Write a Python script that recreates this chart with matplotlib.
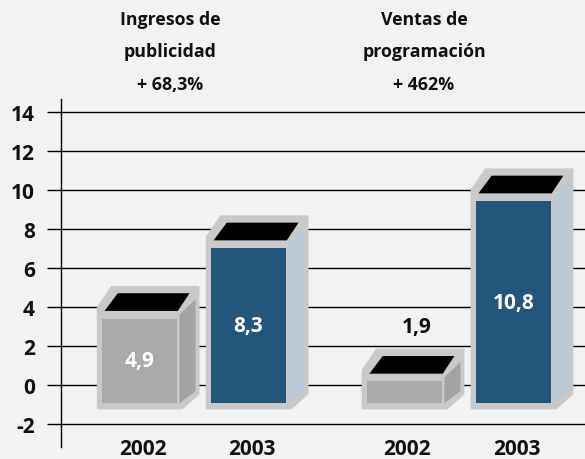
import numpy as np
import matplotlib.pyplot as plt
from matplotlib.patches import Polygon

plt.rcParams["font.family"] = ["Open Sans", "DejaVu Sans"]

titles = [["Ingresos de", "publicidad", "+ 68,3%"],
          ["Ventas de", "programación", "+ 462%"]]
years = ["2002", "2003", "2002", "2003"]
values = [4.9, 8.3, 1.9, 10.8]
# level of the front face top of each box, as drawn against the axis
front_top = [3.41, 7.03, 0.19, 9.44]
yticks = [-2, 0, 2, 4, 6, 8, 10, 12, 14]

pos = np.array([0, 1, 2.43, 3.43])
face = ["#aaaaaa", "#24557b", "#aaaaaa", "#24557b"]
side = ["#a3a3a3", "#bccad8", "#a3a3a3", "#bccad8"]
border = "#c9c9c9"
bg = "#f1f2f4"
ink = "#111111"

fig = plt.figure(figsize=(5.85, 4.6), dpi=100, facecolor=bg)
ax = fig.add_axes([0.1038, 0.0261, 0.8962, 0.7565], facecolor=bg)
ax.set_xlim(-0.723, 4.087)
ax.set_ylim(-3.18, 14.67)

# pixels -> data units
XS = 109.0
YS = 19.5
base = -0.94
W = 74.6


def box(c, top, fc, sc):
    x0 = c - W / 2 / XS
    h = (top - base) * YS

    def P(pts):
        return [(x0 + px / XS, base + py / YS) for px, py in pts]

    outer = [(-5.4, -6), (W + 5.7, -6), (W + 22.7, 9), (W + 22.7, h + 32.6),
             (9, h + 32.6), (-5.4, h + 11.3)]
    sidep = [(W + 2.7, 0), (W + 18.7, 12.3), (W + 18.7, h + 19.3), (W + 2.7, h + 4)]
    topp = [(2.3, h + 7.6), (W + 1, h + 7.6), (W + 12.7, h + 25.3), (15.6, h + 25.3)]
    front = [(0, 0), (W, 0), (W, h), (0, h)]
    ax.add_patch(Polygon(P(outer), closed=True, fc=border, ec="none", zorder=3))
    ax.add_patch(Polygon(P(sidep), closed=True, fc=sc, ec="none", zorder=4))
    ax.add_patch(Polygon(P(topp), closed=True, fc="black", ec="none", zorder=4))
    ax.add_patch(Polygon(P(front), closed=True, fc=fc, ec="none", zorder=4))


for i in range(len(values)):
    box(pos[i], front_top[i], face[i], side[i])
    lab = f"{values[i]:.1f}".replace(".", ",")
    if (front_top[i] - base) * YS > 40:
        ax.text(pos[i], (front_top[i] + base) / 2, lab, color="white",
                ha="center", va="center", fontsize=15, fontweight="bold",
                zorder=5)
    else:
        ax.text(pos[i] + 12 / XS, front_top[i] + 55 / YS, lab, color=ink,
                ha="center", va="center", fontsize=15, fontweight="bold",
                zorder=5)
    ax.text(pos[i] + 3 / XS, -0.003, years[i], transform=ax.get_xaxis_transform(),
            ha="center", va="center", fontsize=15, fontweight="bold",
            color=ink, clip_on=False)

ax.set_yticks(yticks)
ax.set_yticklabels([str(t) for t in yticks], fontsize=15, fontweight="bold",
                   color=ink)
ax.set_xticks([])
ax.tick_params(axis="y", length=10, width=1, pad=8.5, color="black")
ax.grid(axis="y", color="black", linewidth=1.0)
ax.set_axisbelow(True)
for s in ["top", "right", "bottom"]:
    ax.spines[s].set_visible(False)
ax.spines["left"].set_linewidth(1.0)

title_x = [170 / 585, 424 / 585]
line_y = [1 - 20 / 460, 1 - 52 / 460, 1 - 85 / 460]
for g in range(len(titles)):
    for k, line in enumerate(titles[g]):
        fig.text(title_x[g], line_y[k], line, ha="center", va="center",
                 fontsize=12.8, fontweight="bold", color=ink)

fig.savefig("out.png", dpi=100, facecolor=bg)
